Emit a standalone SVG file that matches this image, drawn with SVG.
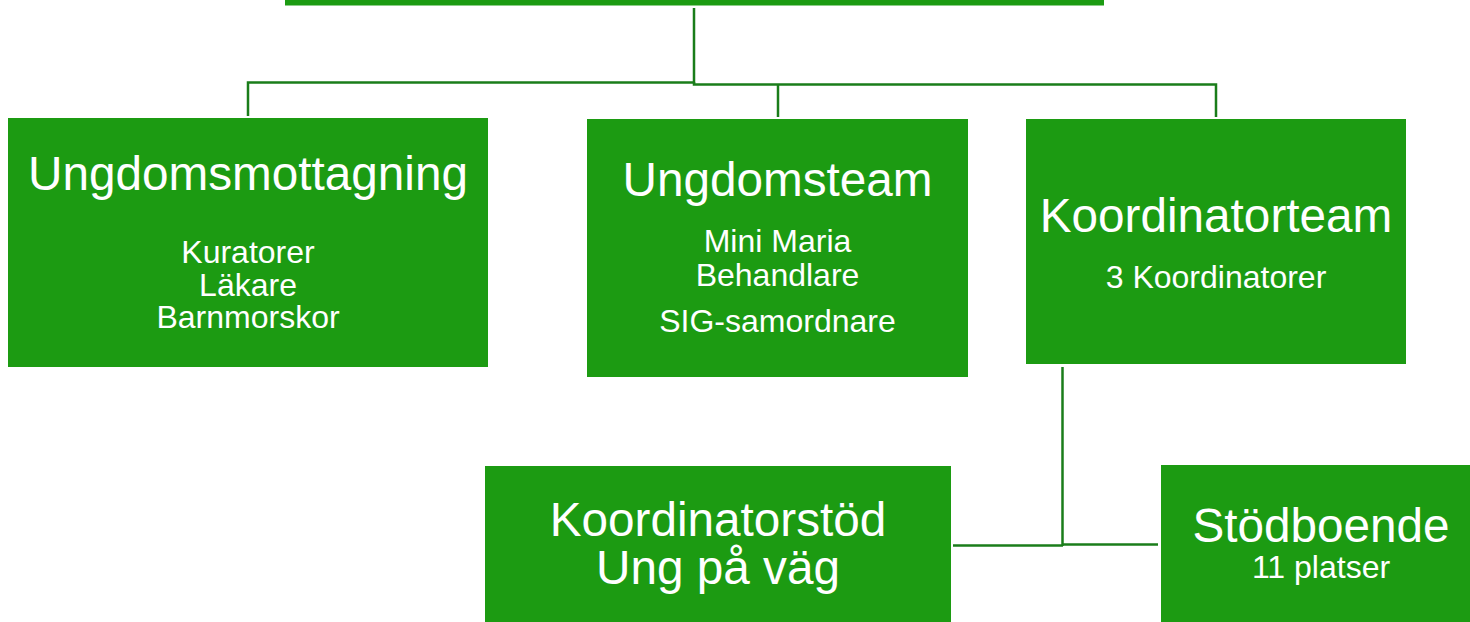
<svg xmlns="http://www.w3.org/2000/svg" width="1470" height="622" viewBox="0 0 1470 622">
<style>
.box{fill:#1c9b12;}
.t{font-family:"Liberation Sans",Arial,sans-serif;fill:#ffffff;text-anchor:middle;}
.h{font-size:47.7px;}
.s{font-size:32px;}
.c{fill:none;stroke:#1a7d1a;stroke-width:2.5;}
</style>
<rect width="1470" height="622" fill="#ffffff"/>
<g id="connectors">
<polyline class="c" points="694,8 694,82.5 248,82.5 248,116"/>
<polyline class="c" points="694,82 694,84.5 1216,84.5 1216,117"/>
<line class="c" x1="778" y1="84.5" x2="778" y2="117"/>
<line class="c" x1="1062.5" y1="367" x2="1062.5" y2="546"/>
<line class="c" x1="953" y1="545.5" x2="1063" y2="545.5"/>
<line class="c" x1="1062" y1="544.5" x2="1158" y2="544.5"/>
</g>
<g id="node-top">
<rect class="box" x="285" y="-50" width="819" height="55.5"/>
</g>
<g id="node-ungdomsmottagning">
<rect class="box" x="8" y="118" width="480" height="249"/>
<text class="t h" x="248" y="190">Ungdomsmottagning</text>
<text class="t s" x="248" y="263">Kuratorer</text>
<text class="t s" x="248" y="296">Läkare</text>
<text class="t s" x="248" y="328">Barnmorskor</text>
</g>
<g id="node-ungdomsteam">
<rect class="box" x="587" y="119" width="381" height="258"/>
<text class="t h" x="777.5" y="196">Ungdomsteam</text>
<text class="t s" x="777.5" y="252">Mini Maria</text>
<text class="t s" x="777.5" y="286">Behandlare</text>
<text class="t s" x="777.5" y="332">SIG-samordnare</text>
</g>
<g id="node-koordinatorteam">
<rect class="box" x="1026" y="119" width="380" height="245"/>
<text class="t h" x="1216" y="232">Koordinatorteam</text>
<text class="t s" x="1216" y="288">3 Koordinatorer</text>
</g>
<g id="node-koordinatorstod">
<rect class="box" x="485" y="466" width="466" height="170"/>
<text class="t h" x="718" y="536">Koordinatorstöd</text>
<text class="t h" x="718" y="584">Ung på väg</text>
</g>
<g id="node-stodboende">
<rect class="box" x="1161" y="465" width="320" height="170"/>
<text class="t h" x="1321" y="542">Stödboende</text>
<text class="t s" x="1321" y="578">11 platser</text>
</g>
</svg>
